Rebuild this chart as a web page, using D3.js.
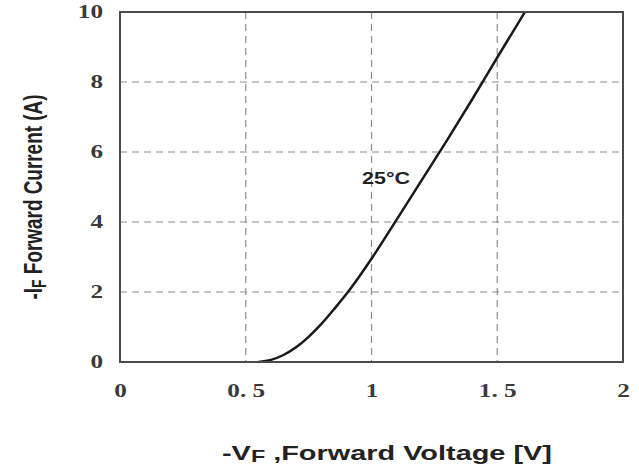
<!DOCTYPE html>
<html>
<head>
<meta charset="utf-8">
<script src="https://cdn.jsdelivr.net/npm/d3@7"></script>
<style>
  body { margin: 0; background: #fff; }
  svg { display: block; }
</style>
</head>
<body>
<script>
const width = 639;
const height = 465;
const margin = { top: 12, right: 16, bottom: 103, left: 120 };

// forward voltage (V) / forward current (A)
const voltage = [0.55, 0.6, 0.65, 0.7, 0.75, 0.8, 0.85, 0.9, 0.95, 1.0, 1.1, 1.2, 1.3, 1.4, 1.5, 1.61];
const current = [0, 0.06, 0.2, 0.42, 0.72, 1.08, 1.5, 1.94, 2.43, 2.95, 4.07, 5.2, 6.33, 7.5, 8.7, 10.0];

const xTicks = [0, 0.5, 1, 1.5, 2];
const xTickLabels = ["0", "0. 5", "1", "1. 5", "2"];
const yTicks = [0, 2, 4, 6, 8, 10];

// the scanned chart is stretched sideways, so text gets widened too
const stretch = 1.4;

const svg = d3
  .select("body")
  .append("svg")
  .attr("width", width)
  .attr("height", height);

const x = d3.scaleLinear().domain([0, 2]).range([margin.left, width - margin.right]);
const y = d3.scaleLinear().domain([0, 10]).range([height - margin.bottom, margin.top]);

function widen(sel, factor) {
  sel.each(function () {
    const len = this.getComputedTextLength();
    d3.select(this)
      .attr("textLength", len * factor)
      .attr("lengthAdjust", "spacingAndGlyphs");
  });
}

// grid
const gridColour = "#8e8e8e";
svg
  .append("g")
  .selectAll("line")
  .data(xTicks.slice(1, -1))
  .join("line")
  .attr("x1", (d) => x(d))
  .attr("x2", (d) => x(d))
  .attr("y1", y(10))
  .attr("y2", y(0))
  .attr("stroke", gridColour)
  .attr("stroke-width", 1.2)
  .attr("stroke-dasharray", "7,5");

svg
  .append("g")
  .selectAll("line")
  .data(yTicks.slice(1, -1))
  .join("line")
  .attr("x1", x(0))
  .attr("x2", x(2))
  .attr("y1", (d) => y(d))
  .attr("y2", (d) => y(d))
  .attr("stroke", gridColour)
  .attr("stroke-width", 1.2)
  .attr("stroke-dasharray", "7,5");

// curve
const points = voltage.map((v, i) => [v, current[i]]);
const line = d3
  .line()
  .x((d) => x(d[0]))
  .y((d) => y(d[1]))
  .curve(d3.curveMonotoneX);

svg
  .append("path")
  .datum(points)
  .attr("d", line)
  .attr("fill", "none")
  .attr("stroke", "#1a1a1a")
  .attr("stroke-width", 2.5);

// frame
svg
  .append("rect")
  .attr("x", x(0))
  .attr("y", y(10))
  .attr("width", x(2) - x(0))
  .attr("height", y(0) - y(10))
  .attr("fill", "none")
  .attr("stroke", "#4a4a4a")
  .attr("stroke-width", 2);

// axes (labels only)
const xAxis = d3
  .axisBottom(x)
  .tickValues(xTicks)
  .tickSize(0)
  .tickPadding(22)
  .tickFormat((d, i) => xTickLabels[i]);

svg
  .append("g")
  .attr("transform", `translate(0,${y(0)})`)
  .call(xAxis)
  .call((g) => g.select(".domain").remove())
  .selectAll("text")
  .attr("font-family", "'Liberation Serif', 'DejaVu Serif', serif")
  .attr("font-size", 18)
  .attr("font-weight", "bold")
  .attr("fill", "#3a3a3a")
  .call(widen, stretch);

const yAxis = d3.axisLeft(y).tickValues(yTicks).tickSize(0).tickPadding(17);

svg
  .append("g")
  .attr("transform", `translate(${x(0)},0)`)
  .call(yAxis)
  .call((g) => g.select(".domain").remove())
  .selectAll("text")
  .attr("font-family", "'Liberation Serif', 'DejaVu Serif', serif")
  .attr("font-size", 18)
  .attr("font-weight", "bold")
  .attr("fill", "#3a3a3a")
  .call(widen, stretch);

// titles
const xTitle = svg
  .append("text")
  .attr("x", 387)
  .attr("y", 460)
  .attr("text-anchor", "middle")
  .attr("font-family", "'Liberation Sans', Arial, sans-serif")
  .attr("font-size", 21)
  .attr("font-weight", "bold")
  .attr("fill", "#222");
xTitle.append("tspan").text("-V");
xTitle.append("tspan").attr("font-size", 17).attr("dy", 2).text("F");
xTitle.append("tspan").attr("dy", -2).text(" ,Forward Voltage [V]");
xTitle.attr("textLength", 330).attr("lengthAdjust", "spacingAndGlyphs");

const yTitle = svg
  .append("text")
  .attr("transform", `translate(42,197) rotate(-90) scale(1,${stretch})`)
  .attr("text-anchor", "middle")
  .attr("font-family", "'Liberation Sans', Arial, sans-serif")
  .attr("font-size", 19)
  .attr("font-weight", "bold")
  .attr("fill", "#222");
yTitle.append("tspan").text("-I");
yTitle.append("tspan").attr("font-size", 14).attr("dy", 3).text("F");
yTitle.append("tspan").attr("dy", -3).text(" Forward Current (A)");
yTitle.attr("textLength", 205).attr("lengthAdjust", "spacingAndGlyphs");

// annotation
svg
  .append("text")
  .attr("x", 386)
  .attr("y", 184)
  .attr("text-anchor", "middle")
  .attr("font-family", "'Liberation Sans', Arial, sans-serif")
  .attr("font-size", 17)
  .attr("font-weight", "bold")
  .attr("fill", "#222")
  .text("25°C")
  .attr("textLength", 48)
  .attr("lengthAdjust", "spacingAndGlyphs");
</script>
</body>
</html>
